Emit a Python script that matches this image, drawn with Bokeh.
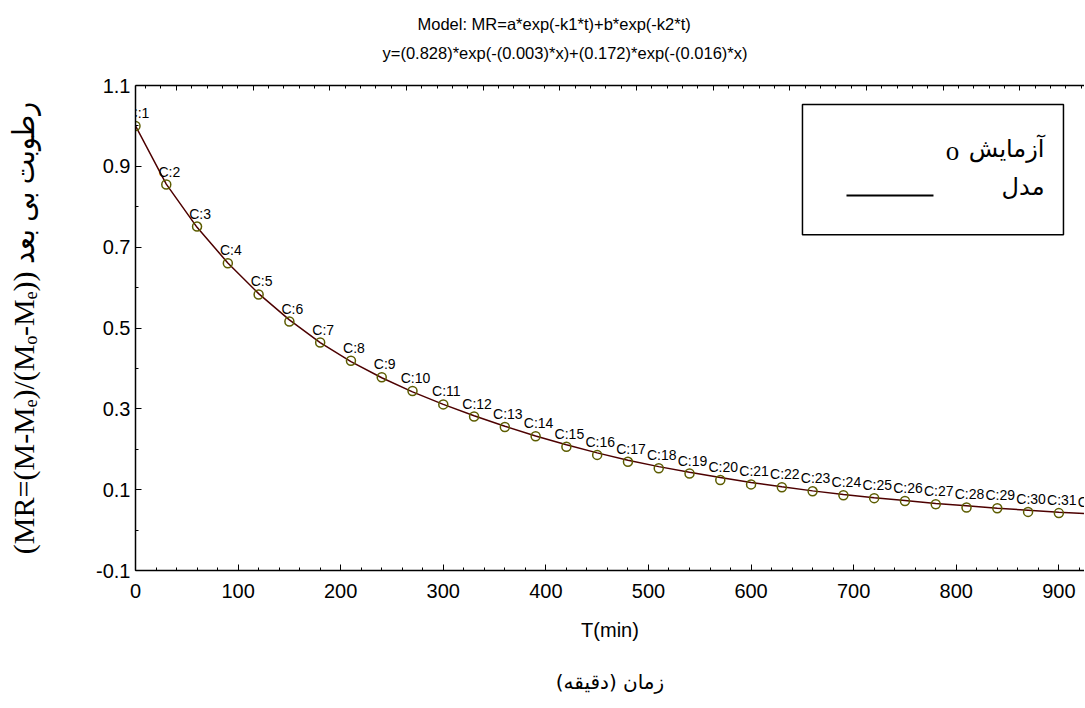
import numpy as np
from bokeh.plotting import figure
from bokeh.models import (Range1d, FixedTicker, LinearAxis, Label, Title,
                          PrintfTickFormatter, ColumnDataSource)
from bokeh.embed import file_html
from bokeh.resources import INLINE
from bokeh.core.properties import value

# ---------------- data ----------------
time_min = [0, 30, 60, 90, 120, 150, 180, 210, 240, 270, 300, 330, 360, 390, 420, 450,
            480, 510, 540, 570, 600, 630, 660, 690, 720, 750, 780, 810, 840, 870, 900, 930]
mr_experiment = [1.000, 0.855, 0.751, 0.660, 0.583, 0.516, 0.464, 0.419, 0.378, 0.344,
                 0.311, 0.281, 0.255, 0.232, 0.206, 0.186, 0.169, 0.153, 0.140, 0.124,
                 0.113, 0.106, 0.096, 0.086, 0.079, 0.072, 0.064, 0.056, 0.054, 0.045,
                 0.042, 0.038]
mr_model = [1.000, 0.856, 0.749, 0.661, 0.585, 0.520, 0.464, 0.417, 0.377, 0.342,
            0.311, 0.283, 0.257, 0.233, 0.211, 0.191, 0.173, 0.157, 0.143, 0.130,
            0.118, 0.107, 0.097, 0.088, 0.080, 0.073, 0.066, 0.060, 0.054, 0.049,
            0.044, 0.040]
point_labels = ["C:%d" % (i + 1) for i in range(len(time_min))]

x_major_ticks = [0, 100, 200, 300, 400, 500, 600, 700, 800, 900]
y_major_ticks = [-0.1, 0.1, 0.3, 0.5, 0.7, 0.9, 1.1]
y_minor_ticks = [0.0, 0.2, 0.4, 0.6, 0.8, 1.0]

title_line1 = "Model: MR=a*exp(-k1*t)+b*exp(-k2*t)"
title_line2 = "y=(0.828)*exp(-(0.003)*x)+(0.172)*exp(-(0.016)*x)"
y_label = "(MR=(M-M\u2091)/(M\u2092-M\u2091)) رطوبت بی بعد"
x_label_en = "T(min)"
x_label_fa = "زمان (دقیقه)"
legend_exp = "آزمایش"
legend_model = "مدل"

# ---------------- figure ----------------
p = figure(width=1084, height=700, output_backend="svg", toolbar_location=None,
           x_range=Range1d(0, 925), y_range=Range1d(-0.1, 1.1),
           min_border_left=135, min_border_right=0, min_border_top=85,
           min_border_bottom=130, title=None)
p.outline_line_color = None
p.xgrid.grid_line_color = None
p.ygrid.grid_line_color = None
p.background_fill_color = "white"
p.border_fill_color = "white"

x_minor = list(range(0, 925, 20))
p.xaxis.ticker = FixedTicker(ticks=x_major_ticks, minor_ticks=x_minor)
p.yaxis.ticker = FixedTicker(ticks=y_major_ticks, minor_ticks=y_minor_ticks)
p.yaxis.formatter = PrintfTickFormatter(format="%.1f")
for ax in (p.xaxis[0], p.yaxis[0]):
    ax.axis_line_color = "black"
    ax.axis_line_width = 1.5
    ax.major_tick_in = 6
    ax.major_tick_out = 0
    ax.minor_tick_in = 3
    ax.minor_tick_out = 0
    ax.major_tick_line_color = "black"
    ax.minor_tick_line_color = "black"
    ax.major_label_text_font = "Liberation Sans"
    ax.major_label_text_font_size = "20px"
    ax.major_label_text_color = "black"
    ax.axis_label_text_color = "black"
    ax.axis_label_text_font_style = "normal"

p.xaxis.major_label_standoff = 13
p.xaxis.axis_label = x_label_en
p.xaxis.axis_label_text_font = "Liberation Sans"
p.xaxis.axis_label_text_font_size = "20px"
p.xaxis.axis_label_standoff = 18

p.yaxis.major_label_standoff = 5
p.yaxis.axis_label = y_label
p.yaxis.axis_label_text_font = "Liberation Serif, DejaVu Sans Condensed"
p.yaxis.axis_label_text_font_size = "30px"
p.yaxis.axis_label_standoff = 53

# second (label-only) axis below for the Persian x label
fa_axis = LinearAxis(ticker=FixedTicker(ticks=[], minor_ticks=[]),
                     axis_line_color=None, major_tick_line_color=None,
                     minor_tick_line_color=None, axis_label=x_label_fa,
                     axis_label_text_font="DejaVu Sans", axis_label_text_font_size="20px",
                     axis_label_text_font_style="normal", axis_label_text_color="black",
                     axis_label_standoff=26, major_tick_in=0, major_tick_out=0,
                     minor_tick_in=0, minor_tick_out=0)
p.add_layout(fa_axis, "below")

# top frame line with its own tick spacing
top_major = list(np.arange(39.8, 925, 74.75))
top_minor = list(np.arange(39.8 - 2 * 14.95, 925, 14.95))
top_axis = LinearAxis(ticker=FixedTicker(ticks=top_major, minor_ticks=top_minor),
                      major_label_text_color=None, major_label_text_font_size="1px",
                      major_label_standoff=0, axis_line_width=1.5,
                      major_tick_in=5, major_tick_out=0,
                      minor_tick_in=3, minor_tick_out=0)
p.add_layout(top_axis, "above")

# blank spacer between the frame and the two title lines
spacer = Title(text="\u00a0", text_font_size="2px", text_color="black", standoff=15)
p.add_layout(spacer, "above")

# titles (line 2 nearer to the plot, line 1 outermost)
t2 = Title(text=title_line2, align="left", offset=247, standoff=10,
           text_font="Liberation Sans", text_font_size="16.5px",
           text_font_style="normal", text_color="black")
t1 = Title(text=title_line1, align="left", offset=282, standoff=8,
           text_font="Liberation Sans", text_font_size="16.5px",
           text_font_style="normal", text_color="black")
p.add_layout(t2, "above")
p.add_layout(t1, "above")

# ---------------- marks ----------------
src = ColumnDataSource(dict(t=time_min, mr=mr_experiment, lab=point_labels))
p.line(time_min, mr_model, line_color="#4d0000", line_width=1.5)
p.scatter("t", "mr", source=src, marker="circle", size=9, fill_color=None,
          line_color="#5c5c00", line_width=1.5)
p.text("t", "mr", text="lab", source=src, x_offset=3, y_offset=-13,
       text_align="center", text_baseline="alphabetic",
       text_font=value("Liberation Sans"), text_font_size="14px", text_color="black")

# ---------------- legend (drawn by hand, RTL style) ----------------
p.quad(left=[650.1], right=[904.5], bottom=[0.731], top=[1.053],
       fill_color="white", line_color="black", line_width=1.5)
p.segment(x0=[693], y0=[0.8277], x1=[777.8], y1=[0.8277], line_color="black", line_width=2)
p.add_layout(Label(x=796.3, y=0.937, text="o", text_font="Liberation Serif",
                   text_font_size="27px", text_align="center", text_baseline="middle",
                   text_color="black"))
p.add_layout(Label(x=886, y=0.942, text=legend_exp, text_font="DejaVu Sans",
                   text_font_size="24px", text_align="right", text_baseline="middle",
                   text_color="black"))
p.add_layout(Label(x=886, y=0.848, text=legend_model, text_font="DejaVu Sans",
                   text_font_size="24px", text_align="right", text_baseline="middle",
                   text_color="black"))

open("out.html", "w").write(file_html(p, INLINE))
